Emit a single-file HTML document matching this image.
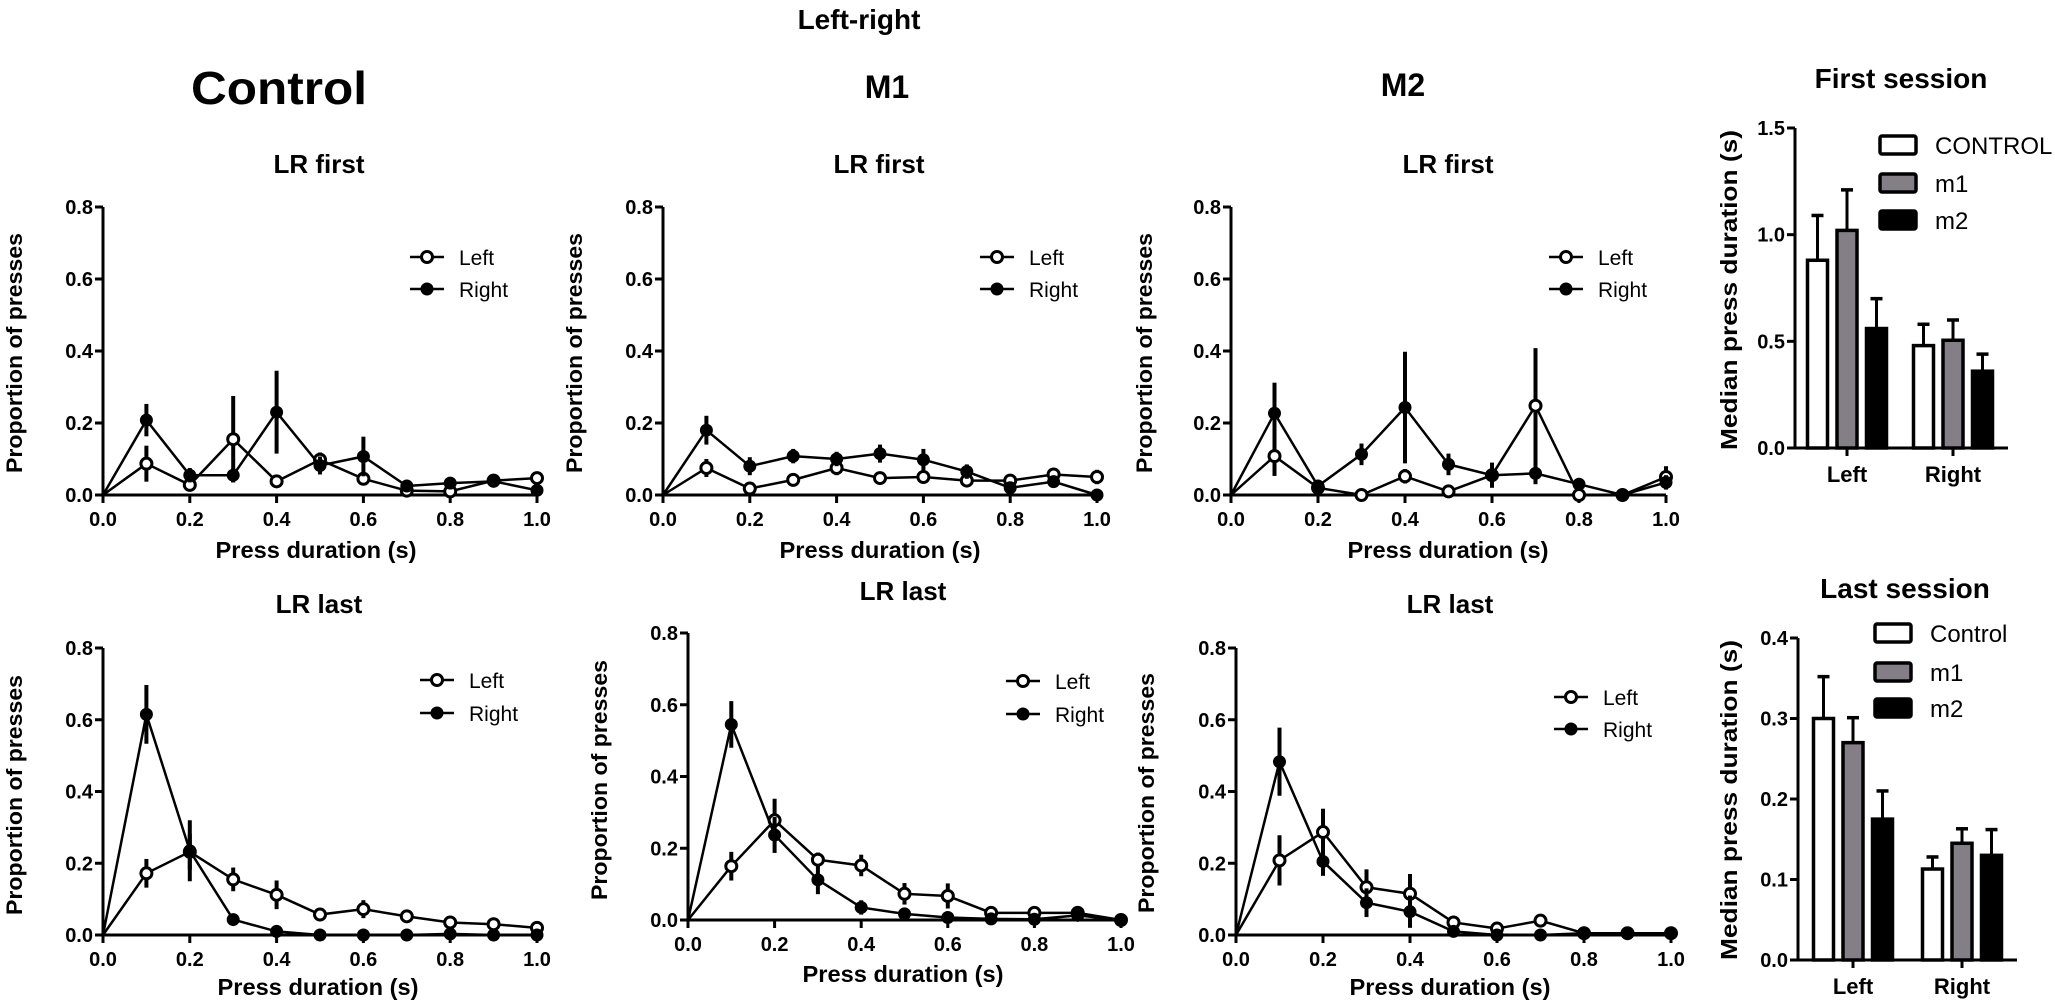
<!DOCTYPE html>
<html><head><meta charset="utf-8"><style>
html,body{margin:0;padding:0;background:#fff;}
svg{display:block;font-family:"Liberation Sans",Arial,sans-serif;}
</style></head><body>
<svg id="fig" width="2055" height="1005" viewBox="0 0 2055 1005" xmlns="http://www.w3.org/2000/svg">
<text x="859" y="29" font-size="28" font-weight="bold" text-anchor="middle">Left-right</text>
<text x="279" y="104" font-size="46" font-weight="bold" text-anchor="middle" textLength="176" lengthAdjust="spacingAndGlyphs">Control</text>
<text x="887" y="98" font-size="32" font-weight="bold" text-anchor="middle">M1</text>
<text x="1403" y="96" font-size="32" font-weight="bold" text-anchor="middle">M2</text>
<g id="plots"></g>
</svg>
<script>
// ---- line chart data ----
const xCats = [0, 0.1, 0.2, 0.3, 0.4, 0.5, 0.6, 0.7, 0.8, 0.9, 1.0];
const xTicks = ["0.0", "0.2", "0.4", "0.6", "0.8", "1.0"];
const yTicks = ["0.0", "0.2", "0.4", "0.6", "0.8"];
const ctrlFirstLeft = [0, 0.087, 0.028, 0.155, 0.038, 0.098, 0.045, 0.012, 0.010, 0.040, 0.047];
const ctrlFirstLeftErr = [0, 0.05, 0.01, 0.12, 0.01, 0.02, 0.01, 0.01, 0.01, 0.01, 0.01];
const ctrlFirstRight = [0, 0.208, 0.055, 0.055, 0.230, 0.082, 0.107, 0.025, 0.033, 0.038, 0.013];
const ctrlFirstRightErr = [0, 0.045, 0.02, 0.02, 0.115, 0.025, 0.055, 0.01, 0.005, 0.01, 0.01];
const m1FirstLeft = [0, 0.075, 0.018, 0.042, 0.075, 0.047, 0.050, 0.040, 0.040, 0.057, 0.050];
const m1FirstLeftErr = [0, 0.025, 0.01, 0.015, 0.02, 0.01, 0.015, 0.01, 0.01, 0.01, 0.02];
const m1FirstRight = [0, 0.180, 0.080, 0.108, 0.100, 0.115, 0.098, 0.065, 0.020, 0.037, 0];
const m1FirstRightErr = [0, 0.04, 0.025, 0.02, 0.02, 0.025, 0.03, 0.02, 0.01, 0.01, 0];
const m2FirstLeft = [0, 0.108, 0.020, 0, 0.052, 0.010, 0.055, 0.248, 0, 0, 0.050];
const m2FirstLeftErr = [0, 0.055, 0.01, 0, 0.02, 0.01, 0.03, 0.16, 0, 0, 0.03];
const m2FirstRight = [0, 0.227, 0.025, 0.113, 0.243, 0.085, 0.055, 0.060, 0.030, 0, 0.035];
const m2FirstRightErr = [0, 0.085, 0.015, 0.03, 0.155, 0.03, 0.035, 0.03, 0.015, 0, 0.02];
const ctrlLastLeft = [0, 0.172, 0.232, 0.155, 0.112, 0.057, 0.072, 0.052, 0.035, 0.030, 0.020];
const ctrlLastLeftErr = [0, 0.04, 0.05, 0.033, 0.04, 0.01, 0.025, 0.01, 0.01, 0.01, 0.01];
const ctrlLastRight = [0, 0.615, 0.235, 0.043, 0.010, 0, 0, 0, 0.003, 0, 0];
const ctrlLastRightErr = [0, 0.082, 0.085, 0.01, 0.005, 0, 0, 0, 0, 0, 0];
const m1LastLeft = [0, 0.150, 0.278, 0.168, 0.152, 0.073, 0.067, 0.020, 0.020, 0.020, 0];
const m1LastLeftErr = [0, 0.04, 0.06, 0.02, 0.03, 0.03, 0.035, 0.01, 0.01, 0.01, 0];
const m1LastRight = [0, 0.545, 0.237, 0.112, 0.035, 0.017, 0.007, 0.003, 0.002, 0.013, 0];
const m1LastRightErr = [0, 0.065, 0.05, 0.04, 0.02, 0.005, 0.005, 0, 0, 0.005, 0];
const m2LastLeft = [0, 0.208, 0.287, 0.133, 0.115, 0.035, 0.018, 0.040, 0.005, 0.005, 0.005];
const m2LastLeftErr = [0, 0.07, 0.065, 0.05, 0.055, 0.01, 0.01, 0.015, 0, 0, 0];
const m2LastRight = [0, 0.483, 0.205, 0.090, 0.065, 0.010, 0, 0, 0.005, 0.005, 0.005];
const m2LastRightErr = [0, 0.095, 0.04, 0.04, 0.045, 0.005, 0, 0, 0, 0, 0];
// ---- bar chart data ----
const barCats = ["Left", "Right"];
const barGroups = ["CONTROL", "m1", "m2"];
const barGroupsLast = ["Control", "m1", "m2"];
const firstMedian = [[0.88, 1.02, 0.56], [0.48, 0.505, 0.36]];
const firstErrTop = [[1.09, 1.21, 0.70], [0.58, 0.60, 0.44]];
const firstTicks = ["0.0", "0.5", "1.0", "1.5"];
const lastMedian = [[0.30, 0.27, 0.175], [0.113, 0.145, 0.13]];
const lastErrTop = [[0.352, 0.301, 0.21], [0.128, 0.163, 0.162]];
const lastTicks = ["0.0", "0.1", "0.2", "0.3", "0.4"];
const barFills = ["#ffffff", "#847f86", "#000000"];

const NS = "http://www.w3.org/2000/svg";
const root = document.getElementById("plots");
function mk(tag, attrs, parent) {
  const e = document.createElementNS(NS, tag);
  for (const k in attrs) e.setAttribute(k, attrs[k]);
  (parent || root).appendChild(e);
  return e;
}

function linePanel(name, g, title, tx, ty, series, legX, legY1, legY2, ylab, xlab) {
  const grp = mk("g", {});
  
  
  const sx = v => g.x0 + (g.x1 - g.x0) * v;
  const sy = v => g.yb - (g.yb - g.yt) * v / 0.8;
  const t = mk("text", {x: tx, y: ty, "font-size": 26, "font-weight": "bold", "text-anchor": "middle"}, grp);
  t.textContent = title;
  
  
  const ax = mk("path", {d: `M${g.x0},${g.yt} L${g.x0},${g.yb} L${g.x1},${g.yb}`, fill: "none", stroke: "#000", "stroke-width": 3}, grp);
  
  
  yTicks.forEach(lbl => {
    const v = parseFloat(lbl);
    mk("line", {x1: g.x0 - 8, x2: g.x0, y1: sy(v), y2: sy(v), stroke: "#000", "stroke-width": 3}, grp);
    const tt = mk("text", {x: g.x0 - 10, y: sy(v) + 7, "font-size": 20, "font-weight": "bold", "text-anchor": "end"}, grp);
    tt.textContent = lbl;
    
    
  });
  xTicks.forEach(lbl => {
    const v = parseFloat(lbl);
    mk("line", {x1: sx(v), x2: sx(v), y1: g.yb, y2: g.yb + 8, stroke: "#000", "stroke-width": 3}, grp);
    const tt = mk("text", {x: sx(v), y: g.yb + 31, "font-size": 20, "font-weight": "bold", "text-anchor": "middle"}, grp);
    tt.textContent = lbl;
    
    
  });
  const yl = mk("text", {x: 0, y: 0, "font-size": 22, "font-weight": "bold", "text-anchor": "middle", textLength: 240, lengthAdjust: "spacingAndGlyphs", transform: `translate(${ylab[0]},${ylab[1]}) rotate(-90)`}, grp);
  yl.textContent = "Proportion of presses";
  
  
  const xl = mk("text", {x: xlab[0], y: xlab[1], "font-size": 23, "font-weight": "bold", "text-anchor": "middle", textLength: 201, lengthAdjust: "spacingAndGlyphs"}, grp);
  xl.textContent = "Press duration (s)";
  
  
  series.forEach((s, si) => {
    const sg = mk("g", {}, grp);
    
    
    s.vals.forEach((v, i) => {
      if (s.err[i] > 0) {
        const eb = mk("line", {x1: sx(xCats[i]), x2: sx(xCats[i]), y1: sy(Math.max(0, v - s.err[i])), y2: sy(v + s.err[i]), stroke: "#000", "stroke-width": 4}, sg);
        
        
      }
    });
    const d = s.vals.map((v, i) => (i ? "L" : "M") + sx(xCats[i]) + "," + sy(v)).join(" ");
    const ln = mk("path", {d: d, fill: "none", stroke: "#000", "stroke-width": 2.5}, sg);
    
    
    s.vals.forEach((v, i) => {
      if (i === 0) return;
      const c = mk("circle", {cx: sx(xCats[i]), cy: sy(v), r: s.open ? 5.5 : 6, fill: s.open ? "#fff" : "#000", stroke: "#000", "stroke-width": s.open ? 3 : 1}, sg);
      
      
    });
  });
  [["Left", legY1, true], ["Right", legY2, false]].forEach(([lab, ly, open]) => {
    const lg = mk("g", {}, grp);
    
    
    mk("line", {x1: legX - 17, x2: legX + 17, y1: ly, y2: ly, stroke: "#000", "stroke-width": 2.5}, lg);
    mk("circle", {cx: legX, cy: ly, r: open ? 5.5 : 6, fill: open ? "#fff" : "#000", stroke: "#000", "stroke-width": open ? 3 : 1}, lg);
    const lt = mk("text", {x: legX + 32, y: ly + 8, "font-size": 21}, lg);
    lt.textContent = lab;
  });
}

linePanel("control-lr-first", {x0: 103, x1: 537, yb: 495, yt: 207}, "LR first", 319, 173,
  [{vals: ctrlFirstLeft, err: ctrlFirstLeftErr, open: true}, {vals: ctrlFirstRight, err: ctrlFirstRightErr, open: false}],
  427, 257, 289, [22, 353], [316, 558]);
linePanel("m1-lr-first", {x0: 663, x1: 1097, yb: 495, yt: 207}, "LR first", 879, 173,
  [{vals: m1FirstLeft, err: m1FirstLeftErr, open: true}, {vals: m1FirstRight, err: m1FirstRightErr, open: false}],
  997, 257, 289, [582, 353], [880, 558]);
linePanel("m2-lr-first", {x0: 1231, x1: 1666, yb: 495, yt: 207}, "LR first", 1448, 173,
  [{vals: m2FirstLeft, err: m2FirstLeftErr, open: true}, {vals: m2FirstRight, err: m2FirstRightErr, open: false}],
  1566, 257, 289, [1152, 353], [1448, 558]);
linePanel("control-lr-last", {x0: 103, x1: 537, yb: 935, yt: 648}, "LR last", 319, 613,
  [{vals: ctrlLastLeft, err: ctrlLastLeftErr, open: true}, {vals: ctrlLastRight, err: ctrlLastRightErr, open: false}],
  437, 680, 713, [22, 795], [318, 995]);
linePanel("m1-lr-last", {x0: 688, x1: 1121, yb: 920, yt: 633}, "LR last", 903, 600,
  [{vals: m1LastLeft, err: m1LastLeftErr, open: true}, {vals: m1LastRight, err: m1LastRightErr, open: false}],
  1023, 681, 714, [607, 780], [903, 982]);
linePanel("m2-lr-last", {x0: 1236, x1: 1671, yb: 935, yt: 648}, "LR last", 1450, 613,
  [{vals: m2LastLeft, err: m2LastLeftErr, open: true}, {vals: m2LastRight, err: m2LastRightErr, open: false}],
  1571, 697, 729, [1154, 793], [1450, 995]);

function barPanel(name, g, title, tx, ty, med, errTop, ticks, groups, legX, legYs, ylab) {
  const grp = mk("g", {});
  
  
  const sy = v => g.y0 - (g.y0 - g.yt) * v / g.max;
  const t = mk("text", {x: tx, y: ty, "font-size": 28, "font-weight": "bold", "text-anchor": "middle"}, grp);
  t.textContent = title;
  
  
  const yl = mk("text", {x: 0, y: 0, "font-size": 23, "font-weight": "bold", "text-anchor": "middle", textLength: 320, lengthAdjust: "spacingAndGlyphs", transform: `translate(${ylab[0]},${ylab[1]}) rotate(-90)`}, grp);
  yl.textContent = "Median press duration (s)";
  
  
  ticks.forEach(lbl => {
    const v = parseFloat(lbl);
    mk("line", {x1: g.ax - 8, x2: g.ax, y1: sy(v), y2: sy(v), stroke: "#000", "stroke-width": 3}, grp);
    const tt = mk("text", {x: g.ax - 10, y: sy(v) + 7, "font-size": 20, "font-weight": "bold", "text-anchor": "end"}, grp);
    tt.textContent = lbl;
    
    
  });
  med.forEach((row, ci) => {
    const cx = g.cats[ci];
    mk("line", {x1: cx, x2: cx, y1: g.y0, y2: g.y0 + 8, stroke: "#000", "stroke-width": 3}, grp);
    const ct = mk("text", {x: cx, y: g.y0 + 34, "font-size": 22, "font-weight": "bold", "text-anchor": "middle"}, grp);
    ct.textContent = barCats[ci];
    
    
    row.forEach((v, bi) => {
      const bx = cx + (bi - 1) * 29.5;
      const el = mk("line", {x1: bx, x2: bx, y1: sy(v), y2: sy(errTop[ci][bi]), stroke: "#000", "stroke-width": 3}, grp);
      
      
      mk("line", {x1: bx - 6, x2: bx + 6, y1: sy(errTop[ci][bi]), y2: sy(errTop[ci][bi]), stroke: "#000", "stroke-width": 3.5}, grp);
      const r = mk("rect", {x: bx - 10, y: sy(v), width: 20, height: g.y0 - sy(v), fill: barFills[bi], stroke: "#000", "stroke-width": 3.5}, grp);
      
      
    });
  });
  const ax = mk("path", {d: `M${g.ax},${g.yt} L${g.ax},${g.y0} L${g.xe},${g.y0}`, fill: "none", stroke: "#000", "stroke-width": 3}, grp);
  
  
  groups.forEach((lab, i) => {
    const lg = mk("g", {}, grp);
    
    
    mk("rect", {x: legX, y: legYs[i] - 9, width: 36, height: 18, fill: barFills[i], stroke: "#000", "stroke-width": 3.5, rx: 2}, lg);
    const lt = mk("text", {x: legX + 55, y: legYs[i] + 9, "font-size": 24}, lg);
    lt.textContent = lab;
  });
}

barPanel("first-session-bars", {ax: 1795, y0: 448, yt: 128, max: 1.5, xe: 2008, cats: [1847, 1953]},
  "First session", 1901, 88, firstMedian, firstErrTop, firstTicks, barGroups, 1880, [145, 183, 220], [1737, 290]);
barPanel("last-session-bars", {ax: 1798, y0: 960, yt: 638, max: 0.4, xe: 2017, cats: [1853, 1962]},
  "Last session", 1905, 598, lastMedian, lastErrTop, lastTicks, barGroupsLast, 1875, [633, 672, 708], [1737, 800]);
</script>
</body></html>
